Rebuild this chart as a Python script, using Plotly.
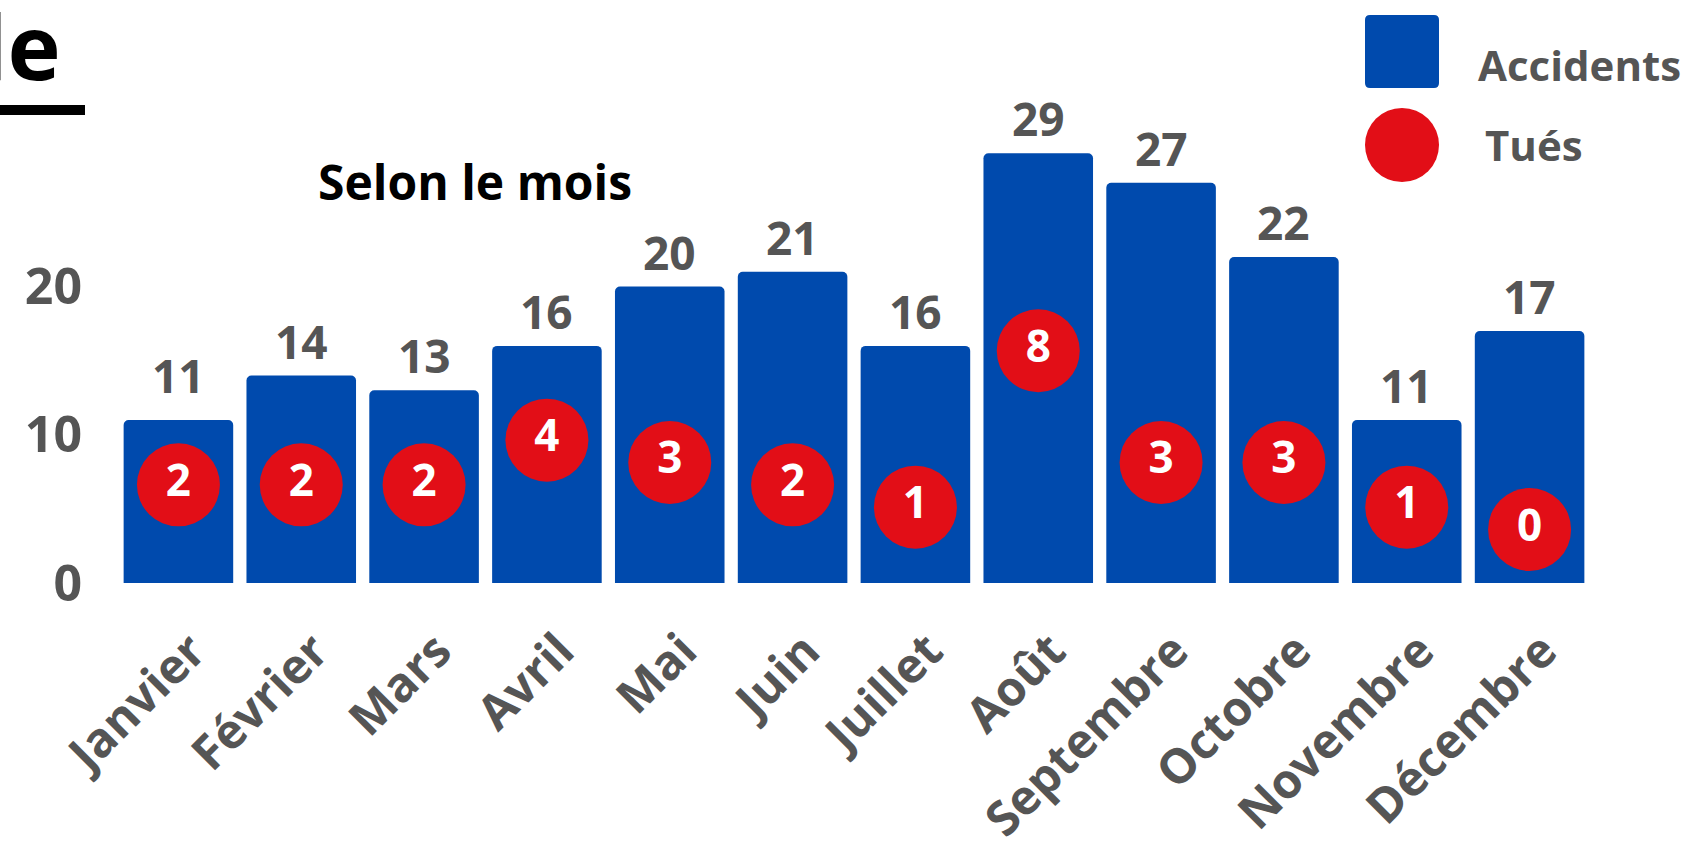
import plotly.graph_objects as go

# ---- data ----
mois = ["Janvier", "Février", "Mars", "Avril", "Mai", "Juin", "Juillet",
        "Août", "Septembre", "Octobre", "Novembre", "Décembre"]
accidents = [11, 14, 13, 16, 20, 21, 16, 29, 27, 22, 11, 17]
tues = [2, 2, 2, 4, 3, 2, 1, 8, 3, 3, 1, 0]
y_ticks = [0, 10, 20]
serie_noms = ["Accidents", "Tués"]
sous_titre = "Selon le mois"
titre_visible = "le"

# ---- style ----
BLUE = "#004AAD"
RED = "#E20E17"
GREY = "#555555"
FONT = "Open Sans"
LABEL_SHIFT_PX = [12, 2, 2, 2, 2, 2, 2, 2, 2, 2, 2, 2]  # value-label offsets

W, H = 1691, 846
PLOT_L, PLOT_R, PLOT_T, PLOT_B = 117, 1591, 100, 583
ML, MR, MT, MB = PLOT_L, W - PLOT_R, PLOT_T, H - PLOT_B
PW, PH = W - ML - MR, H - MT - MB
UNIT = 14.82      # px per accident
UNIT2 = 22.34     # px per tué
ZERO2 = 53.5      # px above baseline for 0 tués


def px(x):
    return (x - PLOT_L) / PW


def py(y):
    return (PLOT_B - y) / PH


fig = go.Figure()

fig.add_trace(go.Bar(
    x=mois, y=accidents, marker=dict(color=BLUE, line=dict(width=0)),
    name=serie_noms[0], showlegend=False, hoverinfo="x+y",
))

fig.add_trace(go.Scatter(
    x=mois, y=tues, yaxis="y2", mode="markers+text",
    marker=dict(color=RED, size=83, line=dict(width=0)),
    text=[str(v) for v in tues], textposition="middle center",
    textfont=dict(family=FONT, size=44, color="white", weight="bold"),
    name=serie_noms[1], showlegend=False, cliponaxis=False,
))

annotations = []
for m, v, s in zip(mois, accidents, LABEL_SHIFT_PX):
    annotations.append(dict(
        x=m, y=v, xref="x", yref="y", text=str(v), showarrow=False,
        yanchor="bottom", xanchor="center", yshift=s,
        font=dict(family=FONT, size=46, color=GREY, weight="bold"),
    ))

# subtitle
annotations.append(dict(
    x=px(316), y=py(181), xref="paper", yref="paper", text=sous_titre,
    showarrow=False, xanchor="left", yanchor="middle",
    font=dict(family=FONT, size=48, color="black", weight="bold"),
))
# cut title
annotations.append(dict(
    x=px(63), y=py(82), xref="paper", yref="paper", text=titre_visible,
    showarrow=False, xanchor="right", yanchor="bottom", yshift=-26,
    font=dict(family=FONT, size=90, color="black", weight="bold"),
))
# legend labels
annotations.append(dict(
    x=px(1476), y=py(64), xref="paper", yref="paper", text=serie_noms[0],
    showarrow=False, xanchor="left", yanchor="middle",
    font=dict(family=FONT, size=42, color=GREY, weight="bold"),
))
annotations.append(dict(
    x=px(1483), y=py(145), xref="paper", yref="paper", text=serie_noms[1],
    showarrow=False, xanchor="left", yanchor="middle",
    font=dict(family=FONT, size=42, color=GREY, weight="bold"),
))

# legend shapes
x0, x1, y0, y1, r = px(1365), px(1439), py(88), py(15), 5
rx, ry = r / PW, r / PH
path = (f"M {x0+rx},{y0} L {x1-rx},{y0} Q {x1},{y0} {x1},{y0+ry} "
        f"L {x1},{y1-ry} Q {x1},{y1} {x1-rx},{y1} L {x0+rx},{y1} "
        f"Q {x0},{y1} {x0},{y1-ry} L {x0},{y0+ry} Q {x0},{y0} {x0+rx},{y0} Z")
shapes = [
    dict(type="path", path=path, xref="paper", yref="paper",
         fillcolor=BLUE, line=dict(width=0)),
    dict(type="circle", xref="paper", yref="paper",
         x0=px(1365), x1=px(1439), y0=py(182), y1=py(108),
         fillcolor=RED, line=dict(width=0)),
    dict(type="line", xref="paper", yref="paper",
         x0=px(-5), x1=px(85), y0=py(110), y1=py(110),
         line=dict(color="black", width=10)),
]

n = len(mois)
fig.update_layout(
    width=W, height=H,
    margin=dict(l=ML, r=MR, t=MT, b=MB, autoexpand=False),
    paper_bgcolor="white", plot_bgcolor="white",
    bargap=0.108, barcornerradius=5,
    showlegend=False,
    font=dict(family=FONT, color=GREY),
    xaxis=dict(
        type="category", range=[-0.5, n - 0.5],
        showgrid=False, zeroline=False, showline=False, ticks="",
        tickangle=-45,
        tickfont=dict(family=FONT, size=48, color=GREY, weight="bold"),
        ticklabelstandoff=29, ticklabelshift=13,
    ),
    yaxis=dict(
        range=[0, PH / UNIT], tickvals=y_ticks, showgrid=False,
        zeroline=False, showline=False, ticks="",
        tickfont=dict(family=FONT, size=50, color=GREY, weight="bold"),
        ticklabelstandoff=34,
    ),
    yaxis2=dict(
        overlaying="y", range=[-ZERO2 / UNIT2, (PH - ZERO2) / UNIT2],
        visible=False,
    ),
    annotations=annotations,
    shapes=shapes,
)

fig.write_html(
    "out.html",
    config={"displayModeBar": False},
    post_script="document.body.style.margin='0';document.body.style.overflow='hidden';",
)
